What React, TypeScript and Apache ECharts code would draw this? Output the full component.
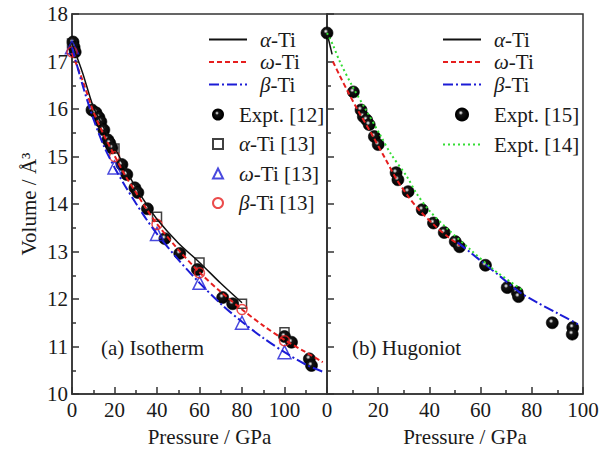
import React, { useEffect, useRef } from 'react';
import * as echarts from 'echarts';

const FONT = '"Liberation Serif", "Times New Roman", serif';
const TXT = '#1a1a1a';
const FS = 21;

// ---------- (a) Isotherm ----------
const alphaIsoP = [0, 5, 10, 15, 20, 25, 30, 35, 40, 50, 60, 70, 80];
const alphaIsoV = [17.38, 16.76, 16.05, 15.6, 15.2, 14.75, 14.35, 14.0, 13.68, 13.18, 12.77, 12.33, 11.92];
const omegaIsoP = [0, 5, 10, 15, 20, 25, 30, 35, 40, 50, 60, 70, 80, 90, 100, 110, 118];
const omegaIsoV = [17.18, 16.6, 15.95, 15.45, 15.02, 14.6, 14.25, 13.9, 13.58, 13.04, 12.56, 12.15, 11.78, 11.44, 11.14, 10.88, 10.67];
const betaIsoP = [0, 5, 10, 15, 20, 25, 30, 35, 40, 50, 60, 70, 80, 90, 100, 110, 118];
const betaIsoV = [17.3, 16.5, 15.8, 15.22, 14.77, 14.38, 14.02, 13.68, 13.37, 12.83, 12.34, 11.9, 11.52, 11.18, 10.88, 10.62, 10.47];

const expt12P = [0.5, 1, 1.5, 9.4, 11.3, 12.7, 13.6, 15, 16.9, 17.8, 18.8, 23.5, 25.8, 29.6, 31, 35.5, 43.7, 50.7, 59, 70.9, 75.6, 100, 103.3, 111.7, 112.7];
const expt12V = [17.41, 17.3, 17.2, 15.98, 15.92, 15.82, 15.73, 15.56, 15.35, 15.28, 15.18, 14.83, 14.62, 14.34, 14.24, 13.9, 13.27, 12.96, 12.62, 12.03, 11.9, 11.21, 11.09, 10.74, 10.6];

const alpha13P = [0, 20, 40, 60, 80, 100];
const alpha13V = [17.38, 15.17, 13.73, 12.77, 11.9, 11.3];
const omega13P = [0, 20, 40, 60, 80, 100];
const omega13V = [17.3, 14.77, 13.37, 12.34, 11.5, 10.88];
const beta13P = [0, 20, 40, 60, 80, 100];
const beta13V = [17.2, 15.0, 13.57, 12.55, 11.78, 11.12];

// ---------- (b) Hugoniot ----------
const alphaHugP = [0, 2];
const alphaHugV = [17.6, 17.15];
const omegaHugP = [2.3, 5, 8, 12, 18, 23, 27.4, 32, 36.4, 42, 47, 52];
const omegaHugV = [17.0, 16.7, 16.38, 15.98, 15.42, 14.93, 14.5, 14.14, 13.85, 13.55, 13.32, 13.12];
const betaHugP = [51, 56, 62, 68, 75, 82, 90, 98];
const betaHugV = [13.19, 12.98, 12.72, 12.46, 12.15, 11.93, 11.7, 11.47];
const expt14P = [0, 2.3, 5, 10, 15, 20.7, 25, 31.3, 35, 40, 47, 56, 65, 76];
const expt14V = [17.6, 17.35, 17.0, 16.47, 16.0, 15.46, 15.05, 14.57, 14.22, 13.86, 13.48, 13.04, 12.62, 12.2];
const expt15P = [0, 10.3, 13.3, 14.2, 15.5, 16.5, 18.5, 20, 27, 27.7, 31.7, 37.2, 41.6, 45.8, 50.1, 51.8, 61.9, 70.4, 74.3, 74.8, 88, 96, 95.8];
const expt15V = [17.6, 16.36, 15.98, 15.84, 15.77, 15.67, 15.42, 15.25, 14.66, 14.51, 14.26, 13.88, 13.6, 13.4, 13.21, 13.1, 12.71, 12.24, 12.14, 12.05, 11.5, 11.4, 11.26];

const isoXTicks = [0, 20, 40, 60, 80, 100];
const hugXTicks = [0, 20, 40, 60, 80, 100];
const yTicks = [10, 11, 12, 13, 14, 15, 16, 17, 18];

const zip = (p: number[], v: number[]) => p.map((x, i) => [x, v[i]]);

const RED = '#e61e1e';
const BLUE = '#1c1cd6';
const GREEN = '#33dd33';
const DASH = [5, 3];
const DASHDOT = [10, 3, 2, 3];
const DOT = [2, 3];

function sphere() {
  return new echarts.graphic.RadialGradient(0.4, 0.36, 0.62, [
    { offset: 0, color: '#ffffff' },
    { offset: 0.1, color: '#bdbdbd' },
    { offset: 0.3, color: '#151515' },
    { offset: 1, color: '#000000' },
  ]);
}

const legendFormatter = (name: string) => {
  const m = name.match(/^([αωβ])(.*)$/);
  return m ? `{g|${m[1]}}{t|${m[2]}}` : `{t|${name}}`;
};
const legendText = (pad: number) => ({
  fontFamily: FONT,
  fontSize: FS,
  color: TXT,
  padding: [0, 0, 0, pad],
  rich: {
    g: { fontFamily: FONT, fontSize: FS, fontStyle: 'italic', color: TXT },
    t: { fontFamily: FONT, fontSize: FS, color: TXT },
  },
});
const noSymbol = { color: 'rgba(0,0,0,0)', borderWidth: 0, opacity: 0 };

function xAxis(gridIndex: number, max: number, ticks: number[]) {
  return {
    type: 'value',
    gridIndex,
    min: 0,
    max,
    interval: 20,
    name: 'Pressure / GPa',
    nameLocation: 'middle',
    nameGap: 32,
    nameTextStyle: { fontFamily: FONT, fontSize: FS, color: TXT, padding: [0, 0, 0, 20] },
    axisLine: { show: true, lineStyle: { color: '#333', width: 1.5 } },
    axisTick: { show: true, inside: true, length: 7, lineStyle: { color: '#333', width: 1.5 } },
    minorTick: { show: true, splitNumber: 2, length: 4, lineStyle: { color: '#333', width: 1.5 } },
    splitLine: { show: false },
    axisLabel: {
      margin: 5,
      fontFamily: FONT,
      fontSize: FS,
      color: TXT,
      formatter: (v: number) => (ticks.includes(v) ? String(v) : ''),
    },
  };
}

function yAxis(gridIndex: number, showLabels: boolean) {
  return {
    type: 'value',
    gridIndex,
    min: 10,
    max: 18,
    interval: 1,
    name: showLabels ? 'Volume / Å³' : '',
    nameLocation: 'middle',
    nameGap: 33,
    nameRotate: 90,
    nameTextStyle: { fontFamily: FONT, fontSize: FS, color: TXT },
    axisLine: { show: true, lineStyle: { color: '#333', width: 1.5 } },
    axisTick: { show: true, inside: true, length: 7, lineStyle: { color: '#333', width: 1.5 } },
    minorTick: { show: true, splitNumber: 2, length: 4, lineStyle: { color: '#333', width: 1.5 } },
    splitLine: { show: false },
    axisLabel: {
      show: showLabels,
      margin: 4,
      fontFamily: FONT,
      fontSize: FS,
      color: TXT,
      formatter: (v: number) => (yTicks.includes(v) ? String(v) : ''),
    },
  };
}

function lineSeries(name: string, idx: number, p: number[], v: number[], color: string, type: any, width: number) {
  return {
    name,
    type: 'line',
    xAxisIndex: idx,
    yAxisIndex: idx,
    data: zip(p, v),
    smooth: 0.3,
    showSymbol: false,
    symbol: 'none',
    z: 4,
    lineStyle: { color, type, width },
    itemStyle: { color },
  };
}

function scatterSeries(name: string, idx: number, p: number[], v: number[], symbol: string, size: number, itemStyle: any) {
  return {
    name,
    type: 'scatter',
    xAxisIndex: idx,
    yAxisIndex: idx,
    data: zip(p, v),
    symbol,
    symbolSize: size,
    z: 3,
    itemStyle,
  };
}

export default function App() {
  const ref = useRef<HTMLDivElement>(null);
  useEffect(() => {
    document.body.style.margin = '0';
    const chart = echarts.init(ref.current!, null, { renderer: 'svg' });
    const sphereStyle = { color: sphere(), borderColor: '#000', borderWidth: 0.6, opacity: 1 };
    const option: any = {
      animation: false,
      backgroundColor: '#fff',
      grid: [
        { left: 72, top: 14, width: 255, height: 381, show: true, borderColor: '#333', borderWidth: 1.5, backgroundColor: 'transparent' },
        { left: 327, top: 14, width: 256, height: 381, show: true, borderColor: '#333', borderWidth: 1.5, backgroundColor: 'transparent' },
      ],
      xAxis: [xAxis(0, 120, isoXTicks), xAxis(1, 100, hugXTicks)],
      yAxis: [yAxis(0, true), yAxis(1, false)],
      legend: [
        {
          orient: 'vertical', left: 208, top: 29, padding: 0, itemGap: 1.5,
          itemWidth: 38, itemHeight: 12, selectedMode: false,
          itemStyle: noSymbol,
          data: ['α-Ti', 'ω-Ti', 'β-Ti'],
          formatter: legendFormatter, textStyle: legendText(8),
        },
        {
          orient: 'vertical', left: 212, top: 104, padding: 0, itemGap: 8.5,
          itemWidth: 10, itemHeight: 10, selectedMode: false,
          data: ['Expt. [12]', 'α-Ti [13]', 'ω-Ti [13]', 'β-Ti [13]'],
          formatter: legendFormatter, textStyle: legendText(11),
        },
        {
          orient: 'vertical', left: 442, top: 29, padding: 0, itemGap: 1.5,
          itemWidth: 38, itemHeight: 12, selectedMode: false,
          itemStyle: noSymbol,
          data: ['α-Ti', 'ω-Ti', 'β-Ti'],
          formatter: legendFormatter, textStyle: legendText(8),
        },
        {
          orient: 'vertical', left: 442, top: 104, padding: 0, itemGap: 9,
          itemWidth: 38, itemHeight: 12, selectedMode: false,
          data: [{ name: 'Expt. [15]' }, { name: 'Expt. [14]', itemStyle: noSymbol }],
          formatter: legendFormatter, textStyle: legendText(8),
        },
      ],
      graphic: [
        { type: 'text', left: 101, top: 337, style: { text: '(a) Isotherm', fontFamily: FONT, fontSize: FS, fill: TXT } },
        { type: 'text', left: 352, top: 337, style: { text: '(b) Hugoniot', fontFamily: FONT, fontSize: FS, fill: TXT } },
      ],
      series: [
        scatterSeries('Expt. [12]', 0, expt12P, expt12V, 'circle', 12, sphereStyle),
        scatterSeries('α-Ti [13]', 0, alpha13P, alpha13V, 'rect', 9, { color: 'rgba(255,255,255,0)', borderColor: '#111', borderWidth: 1.5 }),
        scatterSeries('ω-Ti [13]', 0, omega13P, omega13V, 'triangle', 13, { color: 'rgba(255,255,255,0)', borderColor: BLUE, borderWidth: 1.5 }),
        scatterSeries('β-Ti [13]', 0, beta13P, beta13V, 'circle', 10, { color: 'rgba(255,255,255,0)', borderColor: RED, borderWidth: 1.5 }),
        lineSeries('α-Ti', 0, alphaIsoP, alphaIsoV, '#111', 'solid', 1.5),
        lineSeries('ω-Ti', 0, omegaIsoP, omegaIsoV, RED, DASH, 2),
        lineSeries('β-Ti', 0, betaIsoP, betaIsoV, BLUE, DASHDOT, 2),

        scatterSeries('Expt. [15]', 1, expt15P, expt15V, 'circle', 12, sphereStyle),
        lineSeries('α-Ti', 1, alphaHugP, alphaHugV, '#111', 'solid', 1.5),
        lineSeries('ω-Ti', 1, omegaHugP, omegaHugV, RED, DASH, 2),
        lineSeries('β-Ti', 1, betaHugP, betaHugV, BLUE, DASHDOT, 2),
        lineSeries('Expt. [14]', 1, expt14P, expt14V, GREEN, DOT, 2),
      ],
    };
    chart.setOption(option);
    return () => chart.dispose();
  }, []);
  return <div ref={ref} style={{ width: 612, height: 452 }} />;
}
